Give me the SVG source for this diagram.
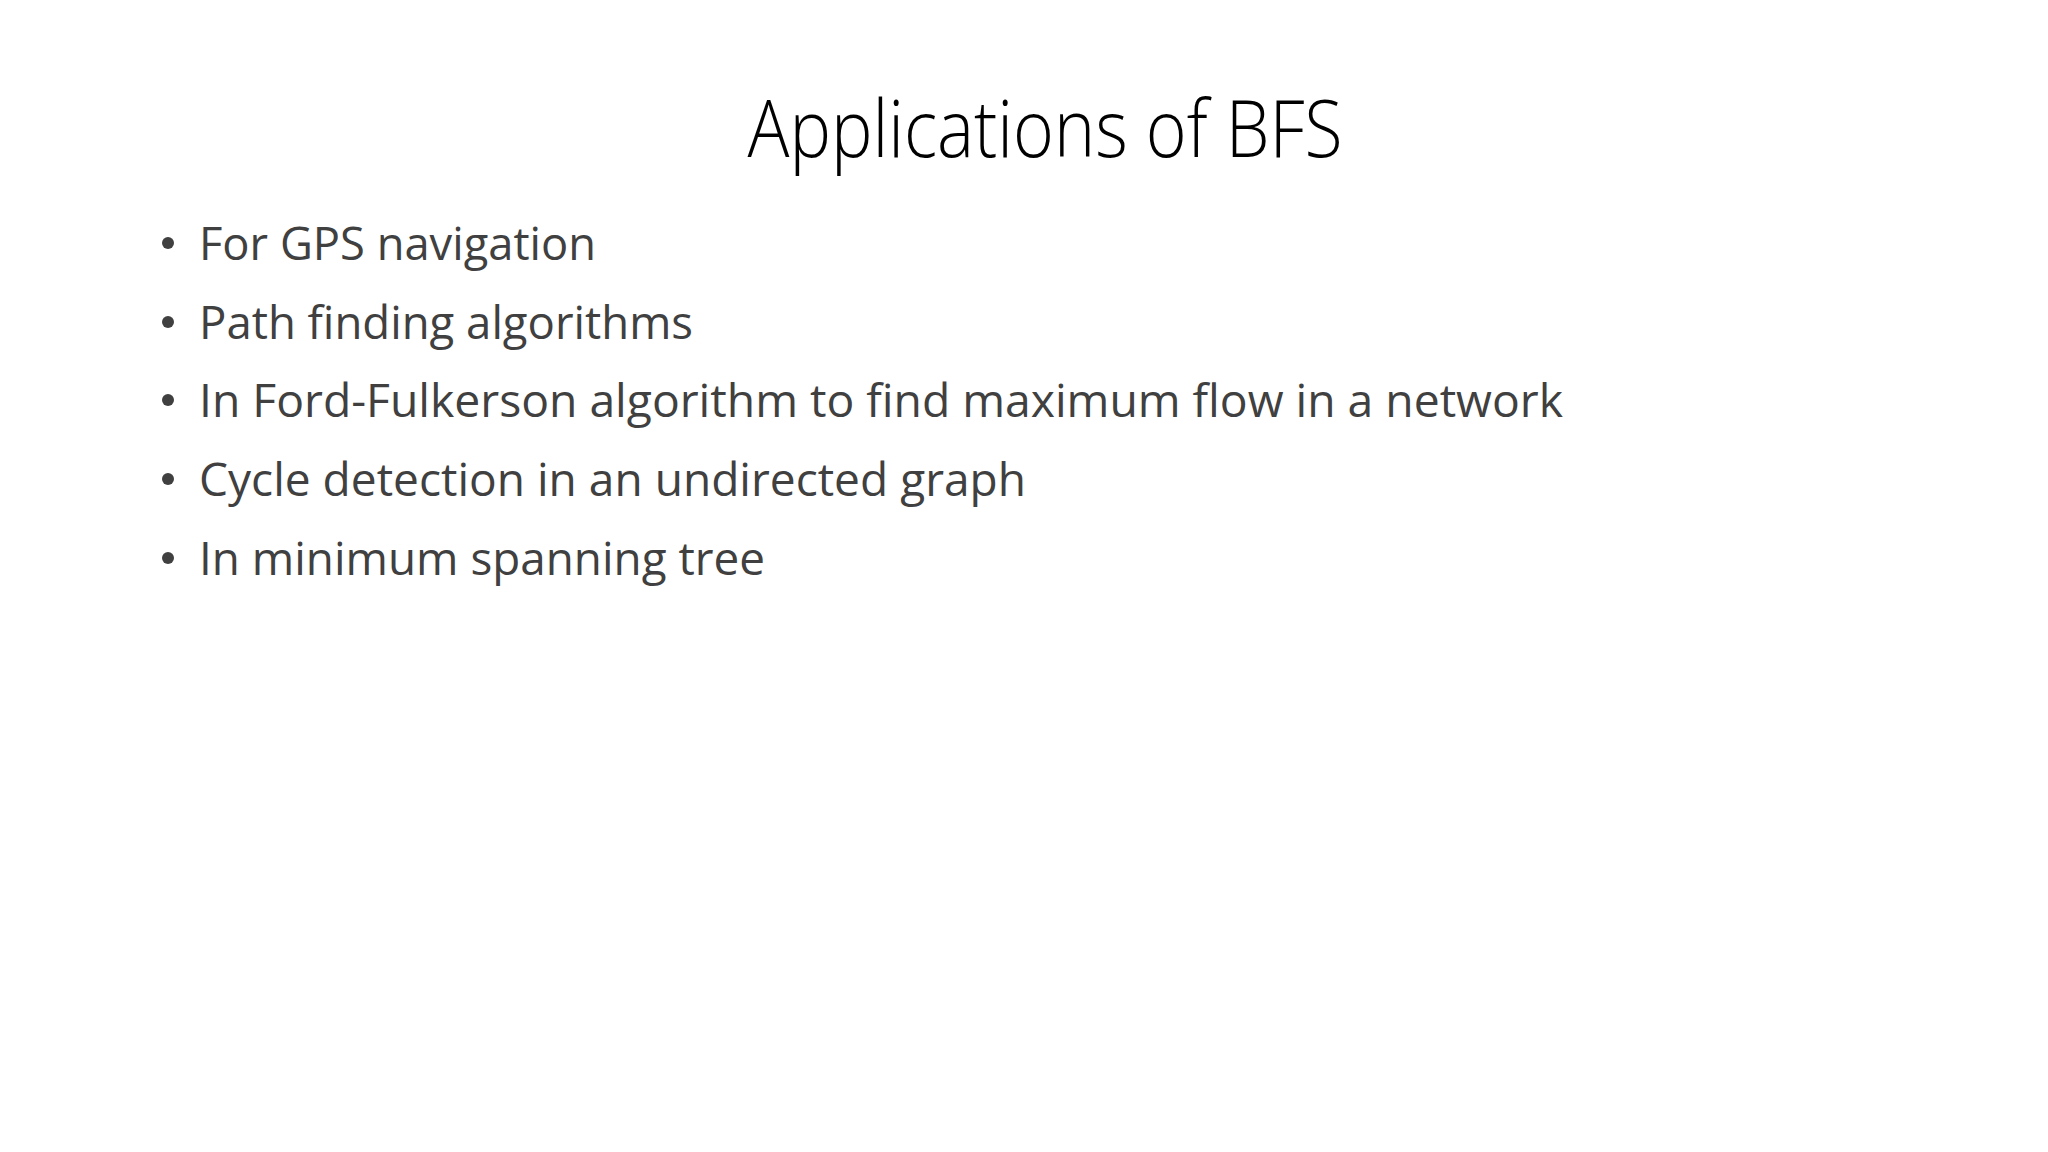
<svg xmlns="http://www.w3.org/2000/svg" width="2048" height="1152" viewBox="0 0 2048 1152">
<style>
.t{font-family:"Open Sans","Liberation Sans",sans-serif;font-weight:300;font-size:80px;fill:#000}
.b{font-family:"Open Sans","Liberation Sans",sans-serif;font-size:46px;fill:#404040}
</style>
<rect width="2048" height="1152" fill="#fff"/>
<g id="title"><text class="t" x="1045" y="157" text-anchor="middle" textLength="595" lengthAdjust="spacingAndGlyphs">Applications of BFS</text></g>
<g id="bullets">
<g fill="#404040"><circle cx="168" cy="243" r="6"/><circle cx="168" cy="322" r="6"/><circle cx="168" cy="400" r="6"/><circle cx="168" cy="479" r="6"/><circle cx="168" cy="558" r="6"/></g>
<text class="b" x="199" y="260" textLength="397" lengthAdjust="spacingAndGlyphs">For GPS navigation</text>
<text class="b" x="199" y="339" textLength="494" lengthAdjust="spacingAndGlyphs">Path finding algorithms</text>
<text class="b" x="199" y="417" textLength="1364" lengthAdjust="spacingAndGlyphs">In Ford-Fulkerson algorithm to find maximum flow in a network</text>
<text class="b" x="199" y="496" textLength="827" lengthAdjust="spacingAndGlyphs">Cycle detection in an undirected graph</text>
<text class="b" x="199" y="575" textLength="566" lengthAdjust="spacingAndGlyphs">In minimum spanning tree</text>
</g>
</svg>
